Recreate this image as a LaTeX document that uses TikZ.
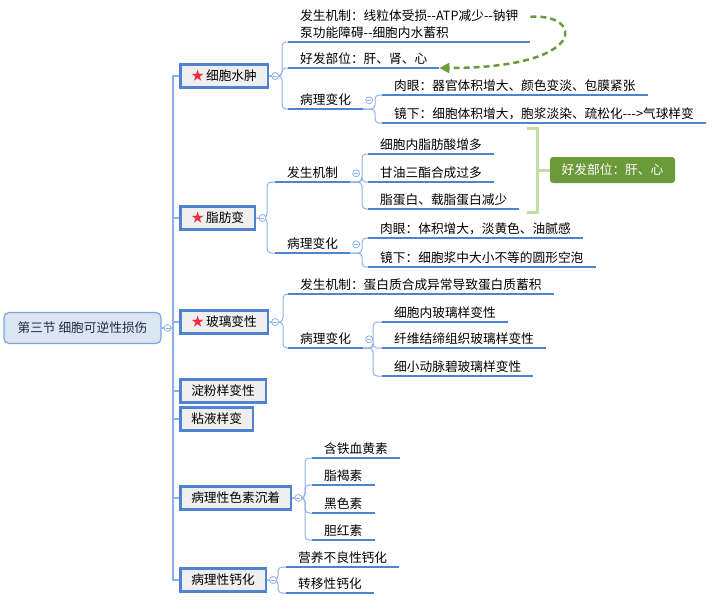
\documentclass[tikz,border=0pt]{standalone}
\usepackage{fontspec}
\setmainfont{Noto Sans CJK SC}
\usetikzlibrary{arrows.meta}

\definecolor{boxblue}{HTML}{4F83D1}
\definecolor{linkblue}{HTML}{8DB0E6}
\definecolor{rootfill}{HTML}{DBE6F4}
\definecolor{rootline}{HTML}{7DA3DD}
\definecolor{rootink}{HTML}{1F2A44}
\definecolor{topicgray}{HTML}{EFEFEF}
\definecolor{tipgreen}{HTML}{6A9A3A}
\definecolor{bracegreen}{HTML}{C3DEA3}
\definecolor{starred}{HTML}{F0283C}
\newcommand\mmfont{\fontsize{12.7pt}{17pt}\selectfont}
\newcommand\hot{{\color{starred}★}\,}

\begin{document}
\begin{tikzpicture}[
    x=1pt, y=-1pt,
    root/.style={
      draw=rootline, line width=1.2pt, fill=rootfill, rounded corners=5pt,
      minimum width=157pt, minimum height=31pt, text=rootink, font=\mmfont
    },
    topic/.style={
      draw=boxblue, line width=2.5pt, fill=topicgray, anchor=west,
      minimum height=23pt, inner xsep=11pt, inner ysep=0pt, font=\mmfont
    },
    leaf/.style={
      anchor=south west, inner xsep=12pt, inner ysep=3.5pt,
      text height=9pt, text depth=1pt, font=\mmfont
    },
    uline/.style={draw=boxblue, line width=2pt},
    link/.style={draw=linkblue, line width=1pt, rounded corners=4pt},
    trunk/.style={draw=linkblue, line width=1.5pt},
    knob/.style={
      circle, draw=linkblue, fill=white, line width=0.8pt,
      minimum size=7pt, inner sep=0pt,
      path picture={\draw[linkblue, line width=0.8pt]
        ([xshift=-2pt]path picture bounding box.center) --
        ([xshift=2pt]path picture bounding box.center);}
    },
    tag/.style={
      fill=tipgreen, text=white, rounded corners=3pt,
      minimum width=125pt, minimum height=26pt, font=\mmfont
    },
    brace/.style={draw=bracegreen, line width=3pt},
    hint/.style={
      draw=tipgreen, line width=2.5pt, dash pattern=on 6pt off 4pt,
      -{Triangle[length=10pt, width=10pt]}
    }
  ]
    \useasboundingbox (0,0) rectangle (719,600);

    % --- root and first level ---
    \node[root] (root) at (82.5,328) {第三节 细胞可逆性损伤};
    \coordinate (tk) at (173,328);

    \node[topic] (b1) at (179,76)  {\hot 细胞水肿};
    \node[topic] (b2) at (179,218) {\hot 脂肪变};
    \node[topic] (b3) at (179,322) {\hot 玻璃变性};
    \node[topic] (b4) at (179,391) {淀粉样变性};
    \node[topic] (b5) at (179,419) {粘液样变};
    \node[topic] (b6) at (179,498) {病理性色素沉着};
    \node[topic] (b7) at (179,580) {病理性钙化};

    \draw[trunk] (root.east) -- (tk);
    \foreach \b in {b1,b2,b3,b4,b5,b6,b7}
      \draw[trunk] (tk) |- (\b.west);

    % --- 细胞水肿 ---
    \node[leaf, text height={}, text depth={}, align=left] (a1) at (288,42)
      {发生机制：线粒体受损-{}-ATP减少-{}-钠钾\\泵功能障碍-{}-细胞内水蓄积};
    \node[leaf] (a2)  at (288,68)  {好发部位：肝、肾、心};
    \node[leaf] (a3)  at (288,109) {病理变化};
    \node[leaf] (a31) at (382,95)  {肉眼：器官体积增大、颜色变淡、包膜紧张};
    \node[leaf] (a32) at (382,123) {镜下：细胞体积增大，胞浆淡染、疏松化-{}-{}->气球样变};

    \foreach \c in {a1,a2,a3}
      \draw[link] (b1.east) -| ([xshift=-6pt]\c.south west) -- (\c.south west);
    \foreach \c in {a31,a32}
      \draw[link] (a3.south east) -| ([xshift=-7pt]\c.south west) -- (\c.south west);

    \draw[hint] ([yshift=-11pt]a1.north east) .. controls +(53,-4) and +(151,0) .. (a2.south east);

    % --- 脂肪变 ---
    \node[leaf] (c1)  at (275,182) {发生机制};
    \node[leaf] (c2)  at (275,253) {病理变化};
    \node[leaf] (c11) at (368,154) {细胞内脂肪酸增多};
    \node[leaf] (c12) at (368,182) {甘油三酯合成过多};
    \node[leaf] (c13) at (368,209) {脂蛋白、载脂蛋白减少};
    \node[leaf] (c21) at (368,238) {肉眼：体积增大，淡黄色、油腻感};
    \node[leaf] (c22) at (368,267) {镜下：细胞浆中大小不等的圆形空泡};
    \node[tag]  (tip) at (612.5,170) {好发部位：肝、心};

    \foreach \c in {c1,c2}
      \draw[link] (b2.east) -| ([xshift=-8pt]\c.south west) -- (\c.south west);
    \foreach \c in {c11,c12,c13}
      \draw[link] (c1.south east) -| ([xshift=-6pt]\c.south west) -- (\c.south west);
    \foreach \c in {c21,c22}
      \draw[link] (c2.south east) -| ([xshift=-6pt]\c.south west) -- (\c.south west);

    \coordinate (bt) at (527,128);
    \coordinate (bb) at (527,212);
    \draw[brace] (bt) -| (537,212) -- (bb);
    \draw[brace] (537,170) -- (tip.west);

    % --- 玻璃变性 ---
    \node[leaf] (d1)  at (288,294) {发生机制：蛋白质合成异常导致蛋白质蓄积};
    \node[leaf] (d2)  at (288,348) {病理变化};
    \node[leaf] (d21) at (382,322) {细胞内玻璃样变性};
    \node[leaf] (d22) at (382,348) {纤维结缔组织玻璃样变性};
    \node[leaf] (d23) at (382,376) {细小动脉碧玻璃样变性};

    \foreach \c in {d1,d2}
      \draw[link] (b3.east) -| ([xshift=-5pt]\c.south west) -- (\c.south west);
    \foreach \c in {d21,d22,d23}
      \draw[link] (d2.south east) -| ([xshift=-9pt]\c.south west) -- (\c.south west);

    % --- 病理性色素沉着 ---
    \node[leaf] (e1) at (312,458) {含铁血黄素};
    \node[leaf] (e2) at (312,485) {脂褐素};
    \node[leaf] (e3) at (312,513) {黑色素};
    \node[leaf] (e4) at (312,540) {胆红素};

    \foreach \c in {e1,e2,e3,e4}
      \draw[link] (b6.east) -| ([xshift=-7pt]\c.south west) -- (\c.south west);

    % --- 病理性钙化 ---
    \node[leaf] (f1) at (286,567) {营养不良性钙化};
    \node[leaf] (f2) at (286,593) {转移性钙化};

    \foreach \c in {f1,f2}
      \draw[link] (b7.east) -| ([xshift=-8pt]\c.south west) -- (\c.south west);

    % underlines and fold knobs
    \foreach \n in {a1,a2,a3,a31,a32,c1,c2,c11,c12,c13,c21,c22,
                    d1,d2,d21,d22,d23,e1,e2,e3,e4,f1,f2}
      \draw[uline] (\n.south west) -- (\n.south east);
    \node[knob] (k0) at ([xshift=6pt]root.east) {};
    \foreach \n in {b1,b2,b3,b6,b7,a3,c1,c2,d2}
      \node[knob] (k\n) at ([xshift=6pt]\n.east) {};
  \end{tikzpicture}
\end{document}
